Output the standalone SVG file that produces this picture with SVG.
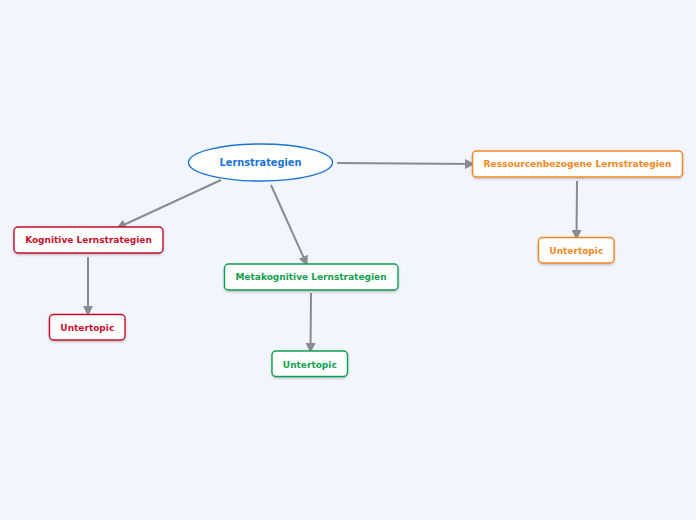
<svg xmlns="http://www.w3.org/2000/svg" width="696" height="520" viewBox="0 0 696 520">
<defs>
<marker id="arr" viewBox="0 0 10 10" refX="9" refY="5" markerWidth="5" markerHeight="5" orient="auto" markerUnits="strokeWidth">
<path d="M0,0 L10,5 L0,10 z" fill="#8a8b91"/>
</marker>
<filter id="sh" x="-10%" y="-20%" width="120%" height="150%">
<feDropShadow dx="0" dy="1.2" stdDeviation="0.8" flood-color="#000" flood-opacity="0.25"/>
</filter>
</defs>
<style>
text{font-family:"DejaVu Sans",Verdana,sans-serif;font-weight:bold;text-anchor:middle;dominant-baseline:central}
.box{fill:#fff;stroke-width:1.4;filter:url(#sh)}
.c line{stroke:#8a8b91;stroke-width:2;marker-end:url(#arr)}
.red rect{stroke:#c8102e}.red text{fill:#c8102e}
.grn rect{stroke:#10a050}.grn text{fill:#10a050}
.org rect{stroke:#f5881f}.org text{fill:#f5881f}
</style>
<rect width="696" height="520" fill="#f2f5fe"/>
<g class="c" id="connectors">
<line x1="337" y1="163" x2="474" y2="164"/>
<line x1="221" y1="180" x2="117" y2="228"/>
<line x1="271" y1="185" x2="307" y2="265"/>
<line x1="88" y1="257" x2="88" y2="315"/>
<line x1="311" y1="293" x2="310.5" y2="352"/>
<line x1="577" y1="181" x2="576.5" y2="239"/>
</g>
<g id="root">
<ellipse cx="260.5" cy="162.5" rx="72" ry="18.5" fill="#fff" stroke="#1a73d9" stroke-width="1.4"/>
<text x="260.5" y="162.5" font-size="9.8" fill="#1a73d9">Lernstrategien</text>
</g>
<g id="ressourcen" class="org">
<rect class="box" x="472.5" y="151" width="210" height="26" rx="4"/>
<text x="577.5" y="164" font-size="9.1">Ressourcenbezogene Lernstrategien</text>
</g>
<g id="kognitive" class="red">
<rect class="box" x="14" y="227" width="149" height="26" rx="4"/>
<text x="88.5" y="240" font-size="9">Kognitive Lernstrategien</text>
</g>
<g id="metakognitive" class="grn">
<rect class="box" x="224.5" y="264" width="173.5" height="26" rx="4"/>
<text x="311" y="277" font-size="9">Metakognitive Lernstrategien</text>
</g>
<g id="untertopic-red" class="red">
<rect class="box" x="49.5" y="314.5" width="75.5" height="25.5" rx="4"/>
<text x="87.3" y="327.5" font-size="9">Untertopic</text>
</g>
<g id="untertopic-green" class="grn">
<rect class="box" x="272" y="351" width="75.5" height="25.5" rx="4"/>
<text x="309.8" y="364.5" font-size="9">Untertopic</text>
</g>
<g id="untertopic-orange" class="org">
<rect class="box" x="538.5" y="237.5" width="75.5" height="25.5" rx="4"/>
<text x="576.3" y="250.5" font-size="9">Untertopic</text>
</g>
</svg>
